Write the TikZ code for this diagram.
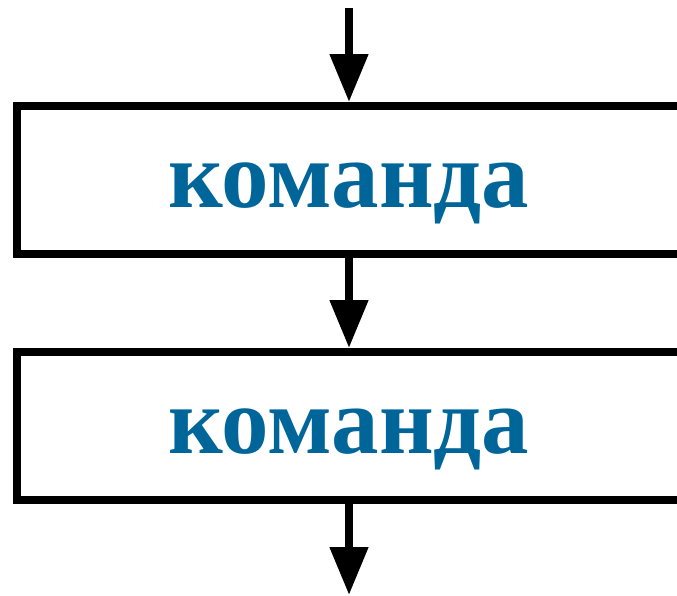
\documentclass[tikz,border=0pt]{standalone}
\usepackage{fontspec}
\setmainfont{Liberation Serif}
\usepackage{tikz}
\usetikzlibrary{arrows.meta, positioning}

\definecolor{cmdblue}{RGB}{0,102,153}

\begin{document}
\begin{tikzpicture}[
    x=1pt, y=-1pt,
    cmd/.style={rectangle, draw, line width=8pt, minimum width=664pt, minimum height=148pt,
        inner sep=0pt, text height=70pt, text depth=16pt,
        text=cmdblue, font=\fontsize{95}{100}\selectfont\bfseries},
    flow/.style={line width=8pt, -{Triangle[length=48pt, width=37pt]}}
]
    \useasboundingbox (0,0) rectangle (677,595);

    \node[cmd] (c1) at (349,180) {команда};
    \node[cmd] (c2) at (349,426) {команда};

    \coordinate (in) at (349,8);
    \coordinate (out) at (349,595);

    \draw[flow] (in) -- (c1.north);
    \draw[flow] (c1.south) -- (c2.north);
    \draw[flow] (c2.south) -- (out);
\end{tikzpicture}
\end{document}
